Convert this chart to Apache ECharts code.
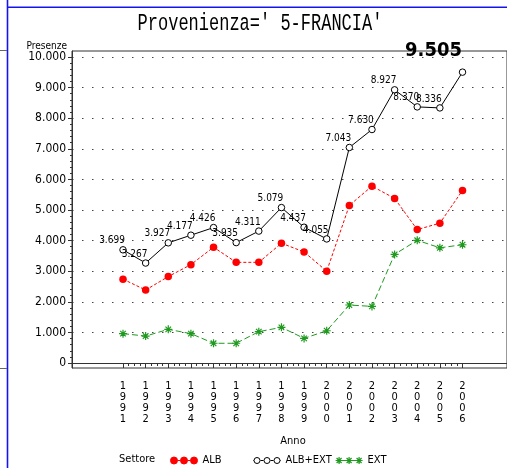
<!DOCTYPE html>
<html><head><meta charset="utf-8">
<script src="https://cdn.jsdelivr.net/npm/echarts@6/dist/echarts.min.js"></script>
<style>html,body{margin:0;padding:0;background:#fff}#c{width:507px;height:468px}</style>
</head><body><div id="c"></div>
<script>
// ---- data ----
const chartTitle = "Provenienza=' 5-FRANCIA'";
const yTitle = 'Presenze';
const xTitle = 'Anno';
const legendTitle = 'Settore';
const years = ['1991','1992','1993','1994','1995','1996','1997','1998','1999','2000','2001','2002','2003','2004','2005','2006'];
const albExt = [3699,3267,3927,4177,4426,3935,4311,5079,4437,4055,7043,7630,8927,8370,8336,9505];
const alb    = [2740,2385,2825,3215,3785,3290,3290,3915,3630,3000,5150,5780,5380,4360,4570,5640];
const ext    = [960,880,1100,960,645,645,1025,1165,805,1055,1895,1850,3550,4010,3765,3865];
const yTicks = [0,1000,2000,3000,4000,5000,6000,7000,8000,9000,10000];

// ---- helpers ----
const NARROW = "'Liberation Sans Narrow','DejaVu Sans Condensed','Liberation Sans',sans-serif";
const fmt = v => { const s = String(Math.round(v)); return s.length > 3 ? s.slice(0, -3) + '.' + s.slice(-3) : s; };
const yearNums = years.map(Number);
const minorX = [];
yearNums.slice(0, -1).forEach(y => { minorX.push(y + 0.25, y + 0.5, y + 0.75); });
const minorY = [];
yTicks.slice(0, -1).forEach(t => { for (let k = 1; k < 5; k++) minorY.push(t + k * 200); });

const XMIN = 1988.746, XMAX = 2007.966, YMIN = -163, YMAX = 10196;

const circ = (cx, r) => `M${cx - r},4a${r},${r} 0 1,0 ${2 * r},0a${r},${r} 0 1,0 ${-2 * r},0Z`;
const star = cx => `M${cx},0.5L${cx},7.5M${cx - 3.5},4L${cx + 3.5},4M${cx - 2.5},1.5L${cx + 2.5},6.5M${cx + 2.5},1.5L${cx - 2.5},6.5`;
const conn = 'M7,4L10,4M17,4L20,4';
const iconAlb = 'path://' + circ(3.5, 3.5) + circ(13.5, 3.5) + circ(23.5, 3.5) + conn;
const iconAlbExt = 'path://' + circ(3.5, 3) + circ(13.5, 3) + circ(23.5, 3) + 'M0,4L0.5,4' + conn + 'M26.5,4L27,4';
const iconExt = 'path://' + star(3.5) + star(13.5) + star(23.5) + conn;
const starSymbol = 'path://M4,0L4,8M0,4L8,4M1.2,1.2L6.8,6.8M6.8,1.2L1.2,6.8';

const RED = '#ff0000', GREEN = '#1f9a1f', BLACK = '#000000';

const totData = years.map((y, i) => [Number(y), albExt[i]]);
totData[totData.length - 1] = {
  value: totData[totData.length - 1],
  label: { offset: [-29, -21], fontSize: 20, fontWeight: 'bold', fontFamily: NARROW }
};

const chart = echarts.init(document.getElementById('c'), null, { renderer: 'canvas' });
const axisCol = '#333';
const legendBase = {
  top: 455, itemWidth: 27, itemHeight: 8, selectedMode: false, padding: 0,
  textStyle: { fontFamily: NARROW, fontSize: 11, color: '#000' }
};
chart.setOption({
  animation: false,
  backgroundColor: '#fff',
  grid: { left: 72, right: 0, top: 51, bottom: 100, show: true, borderColor: axisCol, borderWidth: 1,
          backgroundColor: 'transparent', containLabel: false, outerBoundsMode: 'none' },
  xAxis: [
    { type: 'value', gridIndex: 0, position: 'bottom', min: XMIN, max: XMAX,
      axisLine: { show: true, lineStyle: { color: axisCol, width: 1 } },
      axisTick: { show: true, customValues: yearNums, length: 5, lineStyle: { color: axisCol } },
      axisLabel: { show: true, customValues: yearNums, formatter: v => String(Math.round(v)).split('').join('\n'),
                   fontFamily: NARROW, fontSize: 11, lineHeight: 11, color: '#000', margin: 13 },
      splitLine: { show: false },
      name: xTitle, nameLocation: 'middle', nameGap: 68,
      nameTextStyle: { fontFamily: NARROW, fontSize: 11, color: '#000', padding: [0, 0, 0, 7] } },
    { type: 'value', gridIndex: 0, position: 'bottom', min: XMIN, max: XMAX,
      axisLine: { show: false },
      axisTick: { show: true, customValues: minorX, length: 3, lineStyle: { color: axisCol } },
      axisLabel: { show: false }, splitLine: { show: false } }
  ],
  yAxis: [
    { type: 'value', gridIndex: 0, position: 'left', min: YMIN, max: YMAX,
      axisLine: { show: true, lineStyle: { color: axisCol, width: 1 } },
      axisTick: { show: true, customValues: yTicks, length: 4, lineStyle: { color: axisCol } },
      axisLabel: { show: true, customValues: yTicks, formatter: fmt, fontFamily: NARROW, fontSize: 12, color: '#000', margin: 6 },
      splitLine: { show: true, lineStyle: { color: '#444', type: [1.5, 8.5], width: 1 } },
      name: yTitle, nameLocation: 'end', nameGap: 4,
      nameTextStyle: { align: 'right', verticalAlign: 'middle', fontFamily: NARROW, fontSize: 10, color: '#000', padding: [0, 5, 0, 0] } },
    { type: 'value', gridIndex: 0, position: 'left', min: YMIN, max: YMAX,
      axisLine: { show: false },
      axisTick: { show: true, customValues: minorY, length: 2, lineStyle: { color: axisCol } },
      axisLabel: { show: false }, splitLine: { show: false } }
  ],
  legend: [
    Object.assign({}, legendBase, { left: 170, data: [{ name: 'ALB', icon: iconAlb }],
      itemStyle: { color: RED, borderColor: RED, borderWidth: 1 } }),
    Object.assign({}, legendBase, { left: 253, data: [{ name: 'ALB+EXT', icon: iconAlbExt }],
      itemStyle: { color: '#fff', borderColor: BLACK, borderWidth: 1 } }),
    Object.assign({}, legendBase, { left: 335, data: [{ name: 'EXT', icon: iconExt }],
      itemStyle: { color: GREEN, borderColor: GREEN, borderWidth: 1.2 } })
  ],
  graphic: [
    { type: 'line', shape: { x1: 7.5, y1: 0, x2: 7.5, y2: 468 }, style: { stroke: '#1414f0', lineWidth: 1.6 } },
    { type: 'line', shape: { x1: 7, y1: 7.3, x2: 507, y2: 7.3 }, style: { stroke: '#1414f0', lineWidth: 1.6 } },
    { type: 'line', shape: { x1: 0, y1: 50.5, x2: 7, y2: 50.5 }, style: { stroke: '#666', lineWidth: 1 } },
    { type: 'line', shape: { x1: 0, y1: 368.5, x2: 7, y2: 368.5 }, style: { stroke: '#666', lineWidth: 1 } },
    { type: 'text', x: 260, y: 23, scaleY: 1.45,
      style: { text: chartTitle, fontSize: 17, fontFamily: "'Liberation Mono','DejaVu Sans Mono',monospace",
               align: 'center', verticalAlign: 'middle', fill: '#000' } },
    { type: 'text', x: 119, y: 459,
      style: { text: legendTitle, fontSize: 11, fontFamily: NARROW, align: 'left', verticalAlign: 'middle', fill: '#000' } }
  ],
  series: [
    { name: 'ALB', type: 'line', xAxisIndex: 0, yAxisIndex: 0,
      data: years.map((y, i) => [Number(y), alb[i]]),
      symbol: 'circle', symbolSize: 7.5,
      lineStyle: { color: RED, width: 1, type: [3, 2] },
      itemStyle: { color: RED }, z: 2 },
    { name: 'ALB+EXT', type: 'line', xAxisIndex: 0, yAxisIndex: 0,
      data: totData,
      symbol: 'circle', symbolSize: 6.5,
      lineStyle: { color: BLACK, width: 1 },
      itemStyle: { color: '#fff', borderColor: BLACK, borderWidth: 1 },
      label: { show: true, position: 'inside', offset: [-11, -9], formatter: p => fmt(p.value[1]),
               fontFamily: NARROW, fontSize: 10, color: '#000' },
      z: 3 },
    { name: 'EXT', type: 'line', xAxisIndex: 0, yAxisIndex: 0,
      data: years.map((y, i) => [Number(y), ext[i]]),
      symbol: starSymbol, symbolSize: 8,
      lineStyle: { color: GREEN, width: 1, type: [6, 3] },
      itemStyle: { color: GREEN, borderColor: GREEN, borderWidth: 1.2 }, z: 2 }
  ]
});
</script>
</body></html>
